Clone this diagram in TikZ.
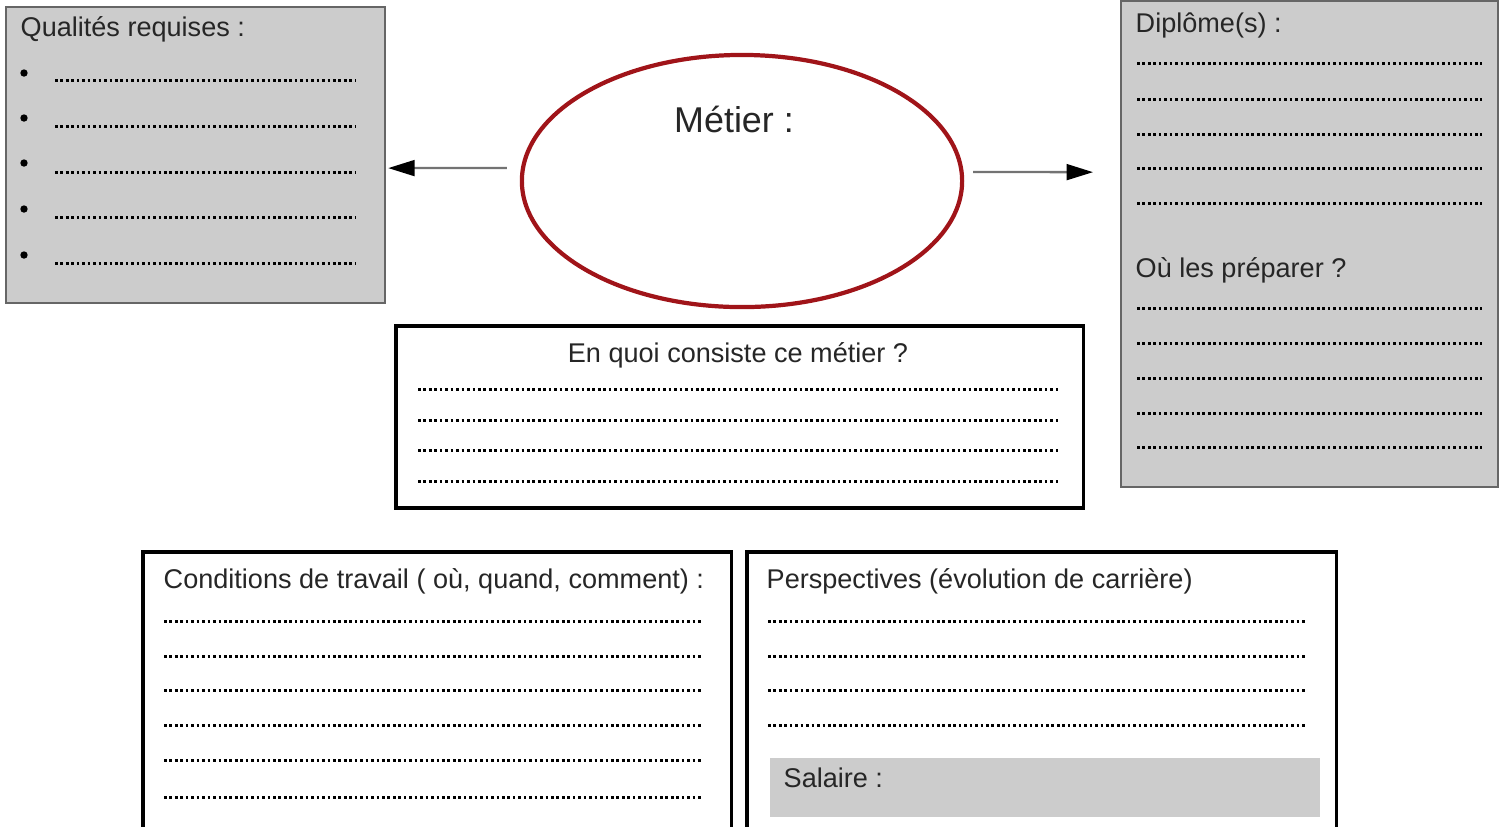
\documentclass[tikz,border=0pt]{standalone}
\usepackage{fontspec, xcolor}
\setmainfont{Liberation Sans}
\usetikzlibrary{arrows.meta, calc, shapes.geometric}
\definecolor{rougemetier}{RGB}{160,20,25}
\definecolor{grisfond}{RGB}{204,204,204}
\tikzset{cadre/.style = {draw = black, line width = 1pt, fill = white, inner sep = 0pt, outer sep = 0pt, anchor = north west}}
\tikzset{cadregris/.style = {draw = black!60, line width = 0.6pt, fill = grisfond, inner sep = 0pt, outer sep = 0pt, anchor = north west}}
\tikzset{titre/.style = {anchor = base west, inner sep = 0pt, text = black!85, font = \fontsize{7.7}{9}\selectfont}}
\tikzset{pointille/.style = {line width = 0.85pt, dash pattern = on 0.75pt off 0.8pt}}
\tikzset{fleche/.style = {draw = black!55, line width = 0.65pt, -{Triangle[length = 7.5pt, width = 4.5pt, color = black]}}}

\begin{document}
\begin{tikzpicture}[x = 0.01cm, y = -0.01cm]
\useasboundingbox (0,0) rectangle (1506,826);
\node[cadregris, minimum width = 3.79cm, minimum height = 2.96cm] (qualites) at (6,7) {};
\node[cadregris, minimum width = 3.77cm, minimum height = 4.86cm] (diplome) at (1121,1) {};
\node[cadre, minimum width = 6.87cm, minimum height = 1.82cm] (enquoi) at (396,326) {};
\node[cadre, minimum width = 5.88cm, minimum height = 2.78cm] (conditions) at (143,552) {};
\node[cadre, minimum width = 5.89cm, minimum height = 2.78cm] (perspectives) at (747,552) {};
\node[fill = grisfond, inner sep = 0pt, anchor = north west, minimum width = 5.50cm, minimum height = 0.59cm] (salaire) at (769,757) {};
\node[ellipse, draw = rougemetier, line width = 1.2pt, inner sep = 0pt, outer sep = 0pt, minimum width = 4.40cm, minimum height = 2.52cm] (metier) at (742,181) {};
\node[titre, anchor = base, font = \fontsize{10.2}{12}\selectfont] (tmetier) at (734,132) {Métier :};
\node[titre] (tqualites) at (20,36) {Qualités requises :};
\node[titre] (tdiplome) at (1135,32) {Diplôme(s) :};
\node[titre] (tpreparer) at (1135,277) {Où les préparer ?};
\node[titre, anchor = base] (tenquoi) at (738,362) {En quoi consiste ce métier ?};
\node[titre] (tconditions) at (163,588) {Conditions de travail ( où, quand, comment) :};
\node[titre] (tperspectives) at (766,588) {Perspectives (évolution de carrière)};
\node[titre] (tsalaire) at (783,787) {Salaire :};
\foreach \y in {73,118,163,209,255} \fill (24,\y) circle (1.05pt);
\foreach \y in {80,126,172,217,263} \draw[pointille] (55,\y) -- (355,\y);
\foreach \y in {63,99,134,168,203,308,343,378,413,447} \draw[pointille] (1137,\y) -- (1482,\y);
\foreach \y in {389,420,450,481} \draw[pointille] (418,\y) -- (1060,\y);
\foreach \y in {621,656,690,725,760,797} \draw[pointille] (164,\y) -- (703,\y);
\foreach \y in {621,656,690,725} \draw[pointille] (768,\y) -- (1306,\y);
\draw[fleche] ($(metier.west)+(-15,-13)$) -- ($(qualites.east)+(3,13)$);
\draw[fleche] ($(metier.east)+(11,-9)$) -- ($(diplome.west)+(-28,-72)$);
\end{tikzpicture}
\end{document}
